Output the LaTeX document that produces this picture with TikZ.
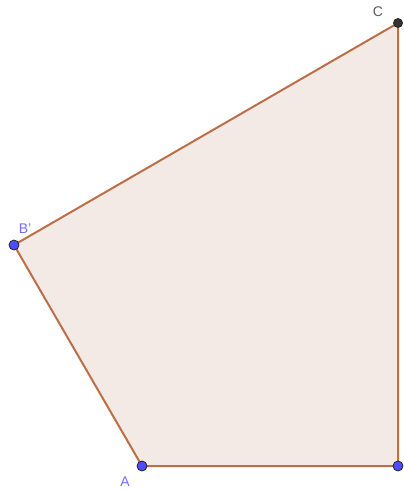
\documentclass[tikz,border=0pt]{standalone}
\usepackage{fontspec}
\setmainfont{Liberation Sans}
\usetikzlibrary{arrows.meta,calc,positioning}
\definecolor{Edge}{HTML}{BC6E46}
\definecolor{Face}{HTML}{F4EAE5}
\definecolor{Pt}{HTML}{4D4DFF}
\definecolor{PtLbl}{HTML}{6E6EFF}
\definecolor{Dark}{HTML}{333333}

\begin{document}
\begin{tikzpicture}[x=1pt,y=-1pt,
        vtx/.style={circle,draw=Dark!70!black,line width=0.8pt,fill=Pt,inner sep=0pt,minimum size=10pt},
        vtxdark/.style={vtx,fill=Dark,minimum size=9pt},
        lbl/.style={font=\fontsize{14}{16}\selectfont,text=PtLbl},
        side/.style={draw=Edge,line width=2pt,line join=round}]
        \useasboundingbox (0,0) rectangle (404,490);
        \coordinate (pa) at (142,466);
        \coordinate (pd) at (398,466);
        \coordinate (pc) at (398,23);
        \coordinate (pb) at (14,245);
        \fill[Face] (pa) -- (pd) -- (pc) -- (pb) -- cycle;
        \draw[side] (pa) -- (pd) -- (pc) -- (pb) -- cycle;
        \node[vtx] (a) at (pa) {};
        \node[vtx] (d) at (pd) {};
        \node[vtxdark] (c) at (pc) {};
        \node[vtx] (b) at (pb) {};
        \node[lbl] at (125,482) {A};
        \node[lbl] at (25,229) {B'};
        \node[lbl,text=Dark!80] at (378,12) {C};
      \end{tikzpicture}
\end{document}
